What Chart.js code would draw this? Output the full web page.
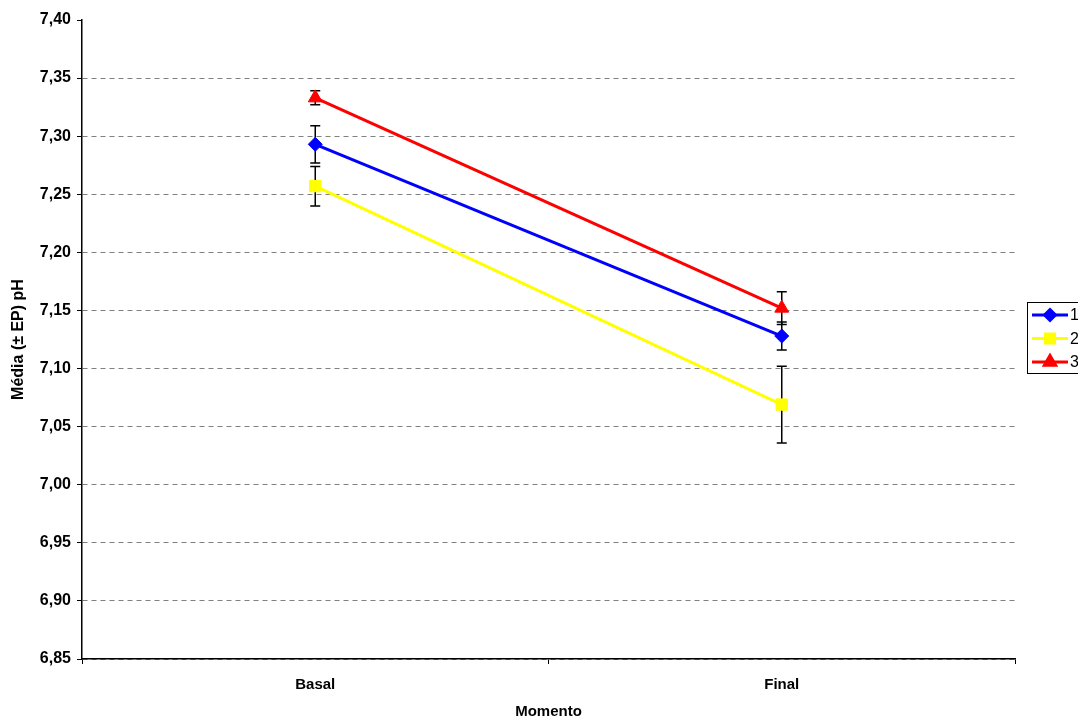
<!DOCTYPE html>
<html>
<head>
<meta charset="utf-8">
<script src="https://cdn.jsdelivr.net/npm/chart.js@4"></script>
<style>
  html, body { margin: 0; padding: 0; background: #fff; }
  #wrap { width: 1078px; height: 721px; }
</style>
</head>
<body>
<div id="wrap"><canvas id="phChart"></canvas></div>
<script>
// pH médio por momento, com erro padrão
const momentos = ['Basal', 'Final'];
const grupos = ['1', '2', '3'];
const mediaG1 = [7.293, 7.128];
const mediaG2 = [7.257, 7.069];
const mediaG3 = [7.333, 7.152];
const epG1 = [0.016, 0.012];
const epG2 = [0.017, 0.033];
const epG3 = [0.006, 0.014];
const yMin = 6.85, yMax = 7.40, yStep = 0.05;

const cores = ['#0000ff', '#ffff00', '#ff0000'];
const marcadores = ['rectRot', 'rect', 'triangle'];
const raios = [7, 8, 8];
const medias = [mediaG1, mediaG2, mediaG3];
const erros = [epG1, epG2, epG3];

const FONT = "'Liberation Sans', Arial, sans-serif";

// barras de erro desenhadas antes das linhas
const errorBars = {
    id: 'errorBars',
    beforeDatasetsDraw(chart) {
        const ctx = chart.ctx;
        const y = chart.scales.y;
        ctx.save();
        ctx.strokeStyle = '#000';
        ctx.lineWidth = 1.5;
        chart.data.datasets.forEach((ds, di) => {
            const meta = chart.getDatasetMeta(di);
            meta.data.forEach((pt, i) => {
                const v = ds.data[i], e = erros[di][i];
                const top = y.getPixelForValue(v + e);
                const bot = y.getPixelForValue(v - e);
                ctx.beginPath();
                ctx.moveTo(pt.x, top); ctx.lineTo(pt.x, bot);
                ctx.moveTo(pt.x - 5, top); ctx.lineTo(pt.x + 5, top);
                ctx.moveTo(pt.x - 5, bot); ctx.lineTo(pt.x + 5, bot);
                ctx.stroke();
            });
        });
        ctx.restore();
    }
};

// legenda em caixa à direita
const legendaBox = {
    id: 'legendaBox',
    afterDraw(chart) {
        const ctx = chart.ctx;
        const x0 = 1027, y0 = 302, rowH = 23.5;
        ctx.save();
        ctx.strokeStyle = '#000';
        ctx.lineWidth = 1;
        ctx.strokeRect(x0 + 0.5, y0 + 0.5, 80, 71);
        ctx.font = '16px ' + FONT;
        ctx.textBaseline = 'middle';
        chart.data.datasets.forEach((ds, i) => {
            const cy = y0 + 13 + i * rowH;
            ctx.strokeStyle = ds.borderColor;
            ctx.lineWidth = 3;
            ctx.beginPath();
            ctx.moveTo(x0 + 5, cy); ctx.lineTo(x0 + 41, cy);
            ctx.stroke();
            ctx.fillStyle = ds.borderColor;
            Chart.helpers.drawPoint(ctx, {
                pointStyle: ds.pointStyle, radius: ds.pointRadius - 1.5, borderWidth: 1, rotation: 0
            }, x0 + 23, cy);
            ctx.fillStyle = '#000';
            ctx.fillText(ds.label, x0 + 43, cy + 1);
        });
        ctx.restore();
    }
};

new Chart(document.getElementById('phChart'), {
    type: 'line',
    data: {
        labels: momentos,
        datasets: grupos.map((g, i) => ({
            label: g,
            data: medias[i],
            borderColor: cores[i],
            backgroundColor: cores[i],
            borderWidth: 3,
            pointStyle: marcadores[i],
            pointRadius: raios[i],
            pointBorderWidth: 1,
            tension: 0
        }))
    },
    options: {
        responsive: true,
        maintainAspectRatio: false,
        animation: false,
        layout: { padding: { top: 20, right: 63, left: 0, bottom: 0 } },
        plugins: { legend: { display: false }, tooltip: { enabled: false } },
        scales: {
            x: {
                offset: true,
                afterFit(scale) { scale.height = 62; },
                grid: { offset: true, drawOnChartArea: false, tickLength: 5, color: '#000' },
                border: { color: '#000', width: 1.5 },
                ticks: { color: '#000', padding: 12, font: { family: FONT, size: 15, weight: 'bold' } },
                title: {
                    display: true, text: 'Momento', color: '#000',
                    font: { family: FONT, size: 15, weight: 'bold' }, padding: { top: 0, bottom: 0 }
                }
            },
            y: {
                min: yMin, max: yMax,
                afterFit(scale) { scale.width = 82; },
                grid: {
                    color: c => (c.tick && c.tick.value > yMax - 0.001) ? 'rgba(0,0,0,0)' : '#808080',
                    tickColor: '#000', tickLength: 5, tickBorderDash: [], lineWidth: 1
                },
                border: { color: '#000', width: 1.5, dash: [5, 4] },
                ticks: {
                    stepSize: yStep, color: '#000', padding: 6,
                    font: { family: FONT, size: 16, weight: 'bold' },
                    callback: v => v.toFixed(2).replace('.', ',')
                },
                title: {
                    display: true, text: 'Média (± EP) pH', color: '#000',
                    font: { family: FONT, size: 16, weight: 'bold' }, padding: { top: 9, bottom: 0 }
                }
            }
        }
    },
    plugins: [errorBars, legendaBox]
});
</script>
</body>
</html>
